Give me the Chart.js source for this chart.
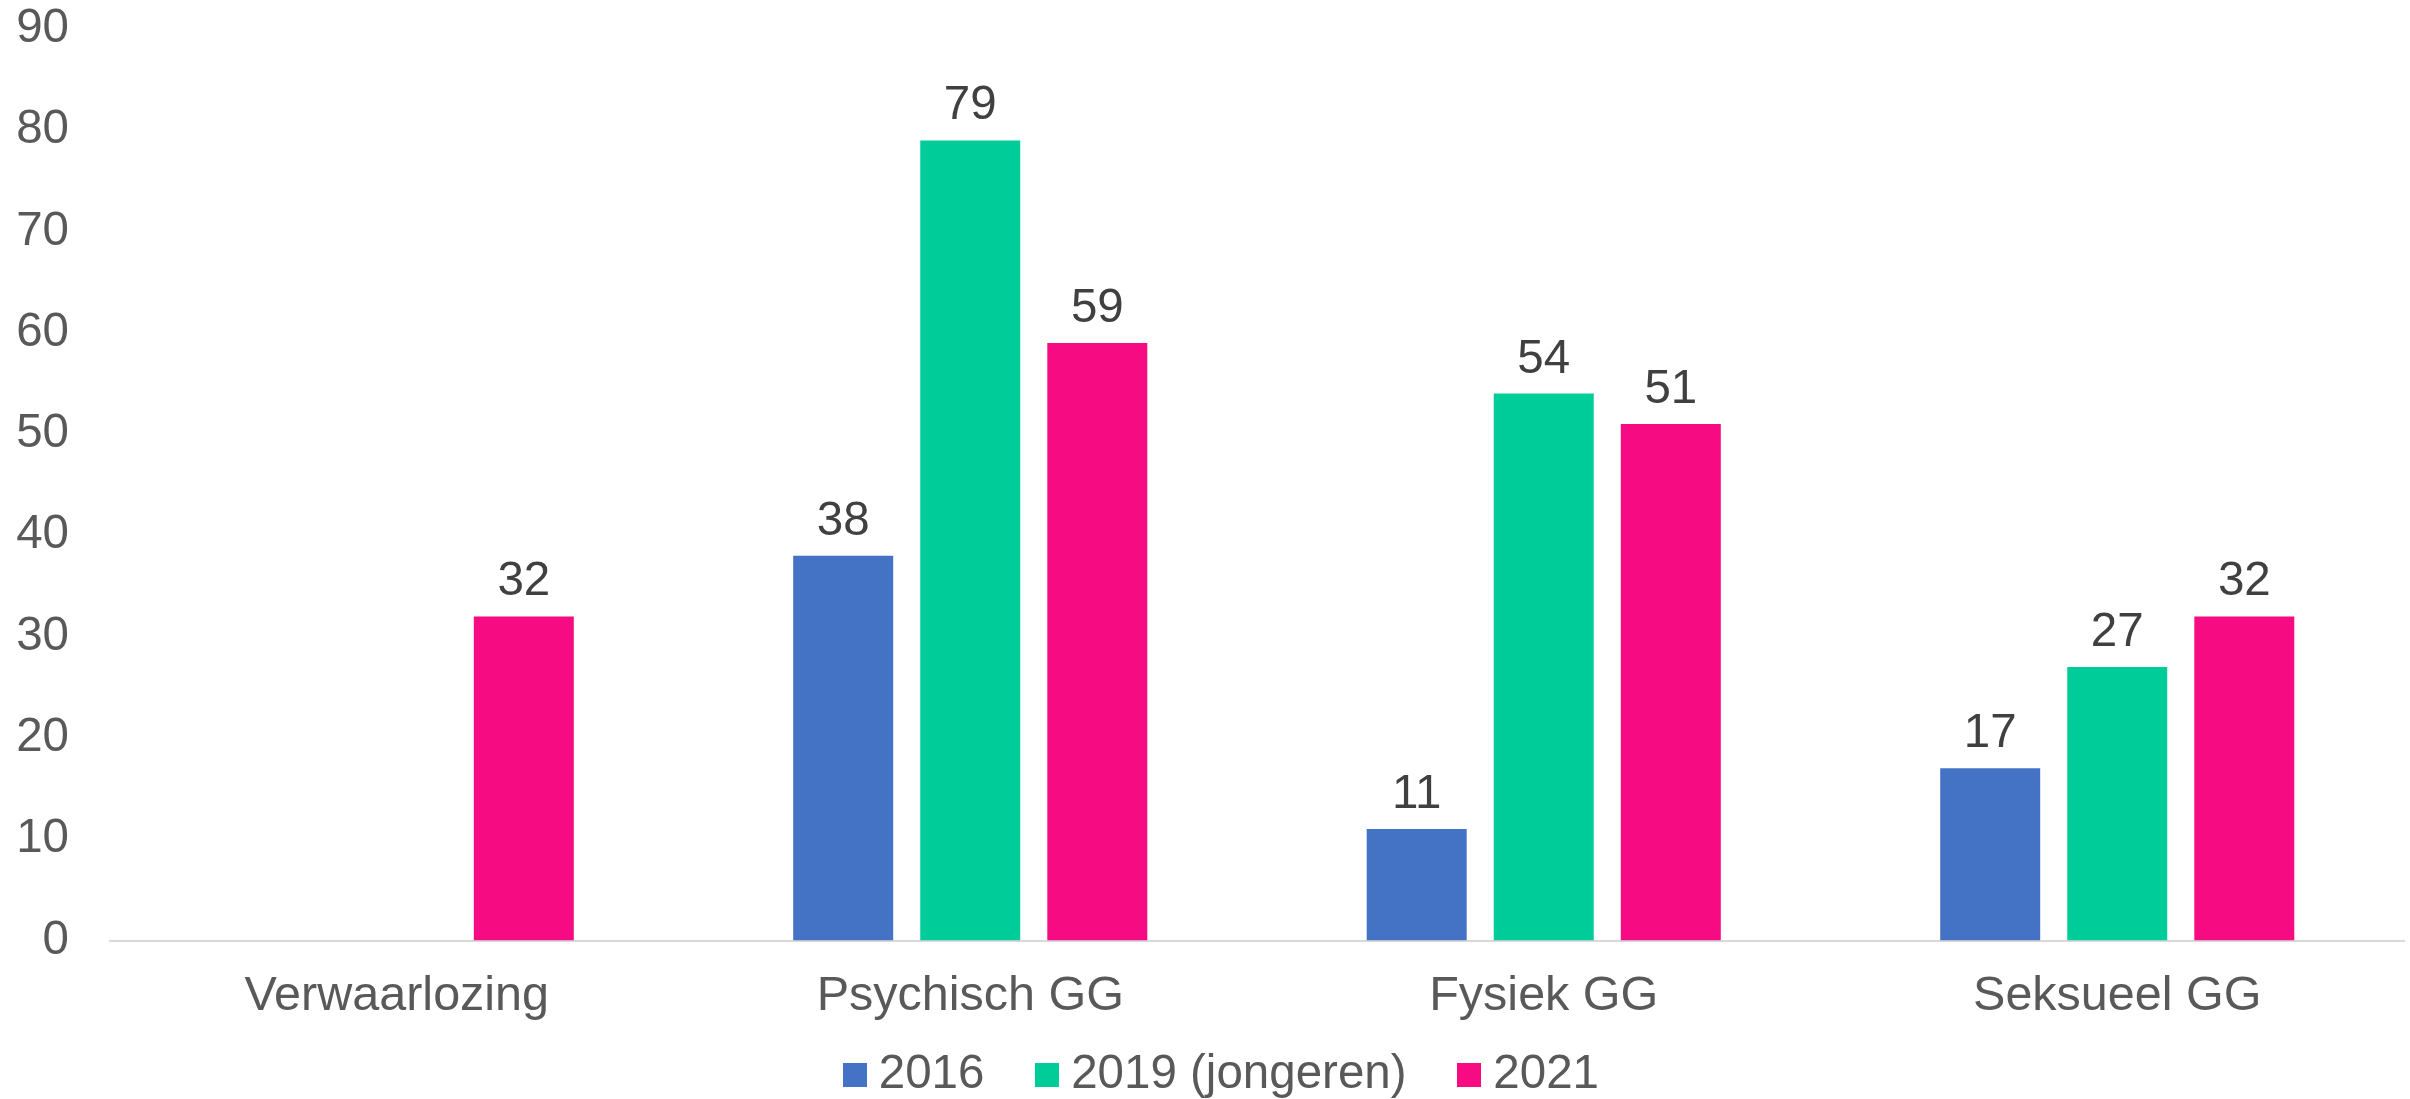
<!DOCTYPE html>
<html>
<head>
<meta charset="utf-8">
<script src="https://cdn.jsdelivr.net/npm/chart.js@4/dist/chart.umd.min.js"></script>
<style>
  html, body { margin: 0; padding: 0; background: #ffffff; }
  #wrap { width: 2410px; height: 1099px; position: relative; }
</style>
</head>
<body>
<div id="wrap"><canvas id="c" width="2410" height="1099"></canvas></div>
<script>
const categories = ['Verwaarlozing', 'Psychisch GG', 'Fysiek GG', 'Seksueel GG'];
const seriesNames = ['2016', '2019 (jongeren)', '2021'];
const values2016 = [null, 38, 11, 17];
const values2019 = [null, 79, 54, 27];
const values2021 = [32, 59, 51, 32];
const seriesColors = ['#4472C4', '#00CC99', '#F60B82'];
const yTicks = [0, 10, 20, 30, 40, 50, 60, 70, 80, 90];

const FONT = '"Liberation Sans", Arial, sans-serif';
const FS = 47.5;
const FS_X = 48.5;

function squareMarker(color) {
  const c = document.createElement('canvas');
  c.width = 24; c.height = 24;
  const g = c.getContext('2d');
  g.fillStyle = color;
  g.fillRect(0, 0, 24, 24);
  return c;
}
const markers = seriesColors.map(squareMarker);

const valueLabels = {
  id: 'valueLabels',
  afterDatasetsDraw(chart) {
    const ctx = chart.ctx;
    ctx.save();
    ctx.font = FS + 'px ' + FONT;
    ctx.fillStyle = '#404040';
    ctx.textAlign = 'center';
    ctx.textBaseline = 'alphabetic';
    chart.data.datasets.forEach((ds, i) => {
      const meta = chart.getDatasetMeta(i);
      meta.data.forEach((bar, j) => {
        const v = ds.data[j];
        if (v === null || v === undefined) return;
        ctx.fillText(String(v), bar.x, bar.y - 21);
      });
    });
    ctx.restore();
  }
};

const legendTuner = {
  id: 'legendTuner',
  beforeUpdate(chart) {
    const lg = chart.legend;
    if (lg && !lg._tuned) {
      const orig = lg.fit;
      lg.fit = function () { orig.call(this); this.height = 85; };
      lg._tuned = true;
    }
  },
  afterLayout(chart) {
    const lg = chart.legend;
    if (lg) {
      lg.top = 989.5;
      lg.bottom = chart.height;
      lg.height = lg.bottom - lg.top;
      lg.left += 16;
      lg.right += 16;
    }
    const xs = chart.scales.x;
    if (xs) { xs.bottom = chart.height; }
  }
};

const allSeries = [values2016, values2019, values2021];

new Chart(document.getElementById('c'), {
  type: 'bar',
  data: {
    labels: categories,
    datasets: allSeries.map((vals, i) => ({
      label: seriesNames[i],
      data: vals,
      backgroundColor: seriesColors[i],
      borderWidth: 0,
      categoryPercentage: 0.6646,
      barPercentage: 0.787
    }))
  },
  options: {
    responsive: false,
    animation: false,
    devicePixelRatio: 1,
    layout: { padding: { left: 17, right: 6, top: 29, bottom: 0 } },
    plugins: {
      legend: {
        position: 'bottom',
        labels: {
          font: { family: FONT, size: FS },
          color: '#595959',
          usePointStyle: true,
          pointStyleWidth: 1,
          padding: 62,
          generateLabels(chart) {
            return chart.data.datasets.map((ds, i) => ({
              text: ds.label,
              fillStyle: seriesColors[i],
              strokeStyle: seriesColors[i],
              lineWidth: 0,
              pointStyle: markers[i],
              fontColor: '#595959',
              hidden: false,
              datasetIndex: i
            }));
          }
        }
      },
      tooltip: { enabled: false }
    },
    scales: {
      x: {
        grid: { display: false, drawTicks: false },
        border: { display: true, color: '#D9D9D9', width: 2 },
        ticks: {
          font: { family: FONT, size: FS_X },
          color: '#595959',
          padding: 27.5
        },
        afterFit(s) { s.height = 73.5; s.paddingLeft = 0; s.paddingRight = 0; }
      },
      y: {
        min: 0,
        max: 90,
        afterBuildTicks(scale) { scale.ticks = yTicks.map(v => ({ value: v })); },
        grid: { display: false, drawTicks: false },
        border: { display: false },
        ticks: {
          font: { family: FONT, size: FS },
          color: '#595959',
          padding: 41
        },
        afterFit(s) { s.width = 93; s.paddingTop = 0; s.paddingBottom = 0; }
      }
    }
  },
  plugins: [valueLabels, legendTuner]
});
</script>
</body>
</html>
